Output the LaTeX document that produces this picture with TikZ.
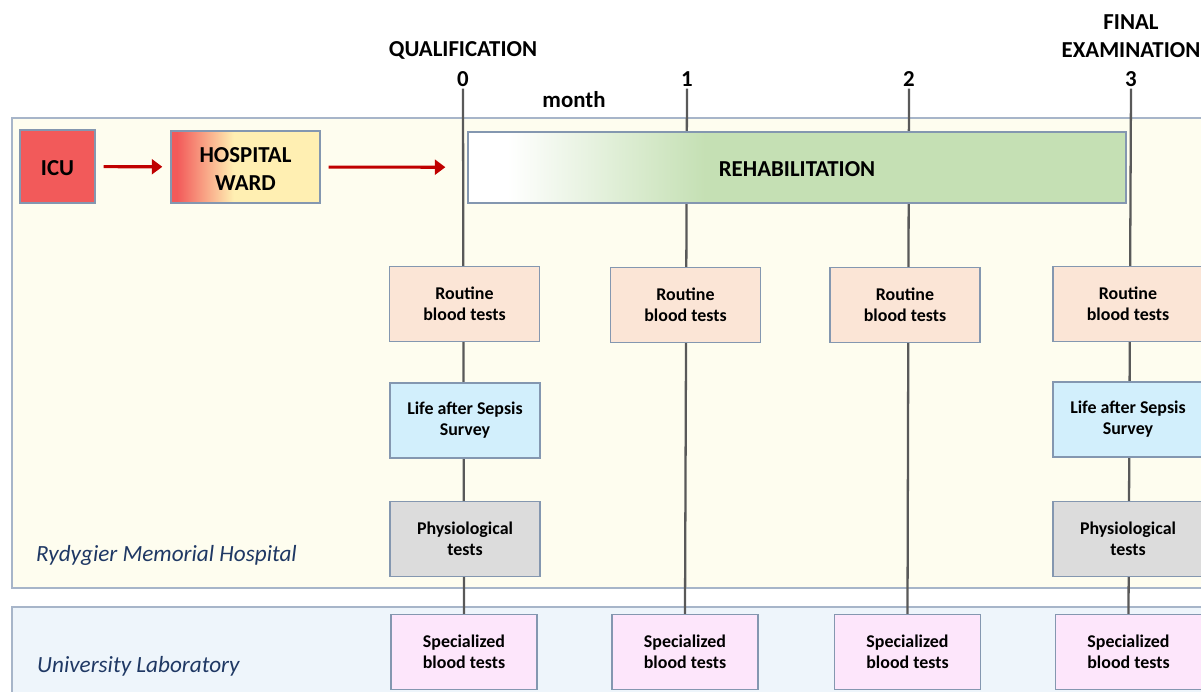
\documentclass[tikz,border=0pt]{standalone}
\usepackage{fontspec}
\setmainfont{Carlito}
\usetikzlibrary{arrows.meta}

\definecolor{panelyel}{HTML}{FEFDEF}
\definecolor{panellab}{HTML}{EEF5FB}
\definecolor{panelline}{HTML}{A7B5C9}
\definecolor{boxline}{HTML}{8497B0}
\definecolor{icured}{HTML}{F25A5A}
\definecolor{wardyel}{HTML}{FFEFB2}
\definecolor{rehabgreen}{HTML}{C5E0B4}
\definecolor{routinec}{HTML}{FBE5D6}
\definecolor{surveyc}{HTML}{D2EFFC}
\definecolor{physc}{HTML}{DCDCDC}
\definecolor{specc}{HTML}{FDE6FB}
\definecolor{arrowred}{HTML}{C00000}
\definecolor{tline}{HTML}{595959}
\definecolor{sitec}{HTML}{1F3864}

\pgfdeclarehorizontalshading{wardshade}{100bp}{color(0bp)=(icured); color(27bp)=(icured); color(46bp)=(wardyel); color(100bp)=(wardyel)}
\pgfdeclarehorizontalshading{rehabshade}{100bp}{color(0bp)=(white); color(28bp)=(white); color(43bp)=(rehabgreen); color(100bp)=(rehabgreen)}

\pgfdeclarelayer{bg}
\pgfdeclarelayer{lines}
\pgfsetlayers{bg,lines,main}

\newcommand{\lowtext}[1]{\raisebox{-2pt}[\height][\depth]{\begin{tabular}{@{}c@{}}#1\end{tabular}}}

\begin{document}
\begin{tikzpicture}[x=0.02cm, y=-0.02cm]
%define

\tikzstyle{box} = [rectangle, minimum width=3cm, minimum height=1.5cm, text centered, align=center, draw=boxline, line width=0.8pt, font=\fontsize{10.2}{12}\selectfont\bfseries]
\tikzstyle{stage} = [box, font=\fontsize{13}{16}\selectfont\bfseries]
\tikzstyle{routine} = [box, fill=routinec]
\tikzstyle{survey} = [box, fill=surveyc]
\tikzstyle{phys} = [box, fill=physc]
\tikzstyle{spec} = [box, fill=specc, minimum width=2.92cm]
\tikzstyle{head} = [align=center, inner sep=1pt, font=\fontsize{13}{16}\selectfont\bfseries]
\tikzstyle{site} = [anchor=west, text=sitec, font=\fontsize{13.2}{15}\selectfont\itshape]
\tikzstyle{arrow} = [-{Triangle[length=6pt, width=8.5pt]}, draw=arrowred, fill=arrowred, line width=1.8pt]
\tikzstyle{tick} = [draw=tline, line width=1.3pt]

\useasboundingbox (0,0) rectangle (1201,691);

%block hospital
\begin{pgfonlayer}{bg}
\filldraw[fill=panelyel, draw=panelline, line width=0.8pt](12,118)rectangle(1215,588);
%block laboratory
\filldraw[fill=panellab, draw=panelline, line width=0.8pt](12,607)rectangle(1215,710);
\end{pgfonlayer}

%timeline
\node[head](head_Qual) at (463,50){QUALIFICATION};
\node[head](head_Final) at (1131,36){FINAL\\EXAMINATION};
\node[head](num_0) at (463,79){0};
\node[head](num_1) at (687,79){1};
\node[head](num_2) at (909,79){2};
\node[head](num_3) at (1131,79){3};
\node[head](head_Month) at (574,100){month};

%path to rehabilitation
\node[stage, fill=icured, minimum width=1.5cm, minimum height=1.46cm](state_ICU) at (57.5,166.5){\lowtext{ICU}};
\node[stage, shading=wardshade, minimum width=2.98cm, minimum height=1.44cm](state_Ward) at (245.5,167){\lowtext{HOSPITAL\\WARD}};
\node[stage, shading=rehabshade, minimum width=13.16cm, minimum height=1.42cm](state_Rehab) at (797,167.5){\lowtext{REHABILITATION}};

%examinations
\node[routine](state_R0) at (464.5,304){Routine\\blood tests};
\node[routine](state_R1) at (685.5,305){Routine\\blood tests};
\node[routine](state_R2) at (905,305){Routine\\blood tests};
\node[routine](state_R3) at (1128,304){Routine\\blood tests};
\node[survey](state_S0) at (465,420.5){Life after Sepsis\\Survey};
\node[survey](state_S3) at (1128,419.5){Life after Sepsis\\Survey};
\node[phys](state_P0) at (465,539){Physiological\\tests};
\node[phys](state_P3) at (1128,539){Physiological\\tests};
\node[spec](state_L0) at (464,652){Specialized\\blood tests};
\node[spec](state_L1) at (685,652){Specialized\\blood tests};
\node[spec](state_L2) at (907.5,652){Specialized\\blood tests};
\node[spec](state_L3) at (1128.5,652){Specialized\\blood tests};

%sites
\node[site](site_Hosp) at (30,555){Rydygier Memorial Hospital};
\node[site](site_Lab) at (31,666){University Laboratory};

%line
\draw[arrow, shorten <=0.16cm, shorten >=0.16cm](state_ICU)--(state_Ward); %ICU->Ward
\draw[arrow, shorten <=0.16cm, shorten >=0.44cm](state_Ward)--(state_Rehab); %Ward->Rehabilitation
\begin{pgfonlayer}{lines}
\draw[tick](num_0.south)--(state_L0.north); %month 0
\draw[tick](num_1.south)--(state_L1.north); %month 1
\draw[tick](num_2.south)--(state_L2.north); %month 2
\draw[tick](num_3.south)--(state_L3.north); %month 3
\end{pgfonlayer}

\end{tikzpicture}
\end{document}
